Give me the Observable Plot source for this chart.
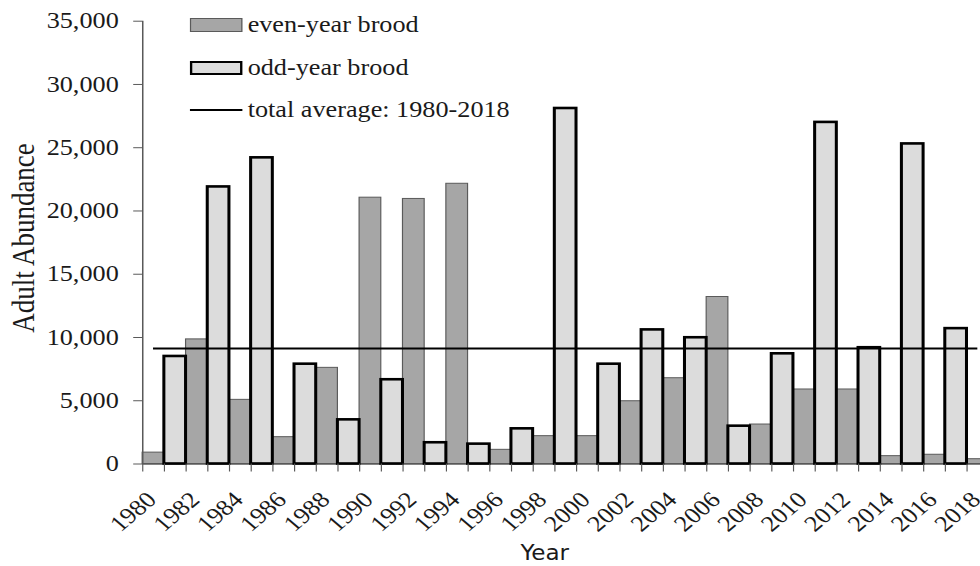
<!DOCTYPE html>
<html><head><meta charset="utf-8">
<script src="https://cdn.jsdelivr.net/npm/d3@7"></script>
<script src="https://cdn.jsdelivr.net/npm/@observablehq/plot@0.6"></script>
<style>
html,body{margin:0;padding:0;background:#fff;}
#wrap{position:relative;width:841px;height:566px;transform:scaleX(1.1653);transform-origin:0 0;overflow:hidden;}
#wrap svg{position:absolute;left:0;top:0;overflow:hidden;}
.legend{position:absolute;left:163px;top:4.3px;font-family:"Liberation Serif","Times New Roman",serif;font-size:22.5px;color:#1a1a1a;}
.row{display:flex;align-items:center;height:42.4px;white-space:nowrap;}
.sw{width:44.5px;height:14px;box-sizing:border-box;margin-right:5px;flex:none;}
.ln{width:44.5px;height:2px;background:#000;margin-right:5px;flex:none;}
</style></head>
<body><div id="wrap"></div>
<script>
// ---- data ----
const years = [1980,1981,1982,1983,1984,1985,1986,1987,1988,1989,1990,1991,1992,1993,1994,1995,1996,1997,1998,1999,2000,2001,2002,2003,2004,2005,2006,2007,2008,2009,2010,2011,2012,2013,2014,2015,2016,2017,2018];
const abundance = [900,8500,9850,21900,5070,24200,2120,7890,7600,3490,21050,6660,20950,1680,22150,1570,1120,2780,2200,28100,2200,7890,4960,10600,6780,9980,13200,2990,3120,8710,5890,27000,5890,9190,620,25300,730,10700,380];
const yTicks = [0,5000,10000,15000,20000,25000,30000,35000];
const xLabelYears = [1980,1982,1984,1986,1988,1990,1992,1994,1996,1998,2000,2002,2004,2006,2008,2010,2012,2014,2016,2018];
const legendLabels = ["even-year brood","odd-year brood","total average: 1980-2018"];
const xTitle = "Year";
const yTitle = "Adult Abundance";

// ---- table ----
const table = years.map((year, i) => ({year, value: abundance[i], brood: year % 2 === 0 ? "even" : "odd"}));
const evenRows = table.filter(d => d.brood === "even");
const oddRows = table.filter(d => d.brood === "odd");
const boundaries = years.map(y => y - 0.5).concat([years[years.length - 1] + 0.5]);
const avg = d3.mean(abundance);

const serif = "'Liberation Serif','Times New Roman',serif";
const EVEN_FILL = "#a6a6a6", EVEN_STROKE = "#5a5a5a", ODD_FILL = "#dcdcdc", ODD_STROKE = "#000";

const chart = Plot.plot({
  width: 841, height: 566,
  marginLeft: 122, marginRight: 0, marginTop: 20.7, marginBottom: 102.5,
  style: {fontFamily: serif, fontSize: "22.5px", color: "#1a1a1a", background: "white", overflow: "hidden"},
  x: {domain: [years[0] - 0.5, years[years.length - 1] + 0.5], range: [122, 848]},
  y: {domain: [0, 35000]},
  marks: [
    Plot.rectY(evenRows, {x1: d => d.year - 0.5, x2: d => d.year + 0.5, y: "value", fill: EVEN_FILL, stroke: EVEN_STROKE, strokeWidth: 1}),
    Plot.ruleY([0], {stroke: "#595959", strokeWidth: 1.5}),
    Plot.rectY(oddRows, {x1: d => d.year - 0.5, x2: d => d.year + 0.5, y: "value", fill: ODD_FILL, stroke: ODD_STROKE, strokeWidth: 2.6}),
    Plot.ruleX([years[0] - 0.5], {stroke: "#595959", strokeWidth: 1.3}),
    Plot.ruleY([avg], {x1: years[0], x2: years[years.length - 1], stroke: "#000", strokeWidth: 2}),
    Plot.axisY({ticks: yTicks, tickFormat: d3.format(","), tickSize: 7.7, tickPadding: 12.9, stroke: "#595959", fill: "#1a1a1a", label: null, fontSize: 22.5}),
    Plot.axisX({ticks: boundaries, tickSize: 8, tickFormat: () => "", stroke: "#595959", label: null}),
    Plot.text(xLabelYears, {x: d => d, text: d => String(d), frameAnchor: "bottom", rotate: -45, textAnchor: "end", lineAnchor: "bottom", dx: 3.5, dy: 37, fontSize: 22.5, fill: "#1a1a1a"}),
    Plot.text([yTitle], {frameAnchor: "left", rotate: -90, textAnchor: "middle", dx: -102, dy: -4.6, fontSize: 27, lineAnchor: "middle", fill: "#1a1a1a"}),
    Plot.text([xTitle], {frameAnchor: "bottom", textAnchor: "middle", dx: -14.5, dy: 96, lineAnchor: "bottom", fontFamily: "'Liberation Sans Narrow','DejaVu Sans Condensed',Roboto,sans-serif", fontSize: 22, fill: "#1a1a1a"})
  ]
});

const wrap = document.getElementById("wrap");
wrap.appendChild(chart);

// legend (overlaid on the plot area)
const legend = document.createElement("div");
legend.className = "legend";
const swatches = [
  `<div class="sw" style="background:${EVEN_FILL};border:1px solid ${EVEN_STROKE}"></div>`,
  `<div class="sw" style="background:${ODD_FILL};border:2.6px solid ${ODD_STROKE}"></div>`,
  `<div class="ln"></div>`
];
legend.innerHTML = legendLabels.map((t, i) => `<div class="row">${swatches[i]}<span>${t}</span></div>`).join("");
wrap.appendChild(legend);
</script>
</body></html>
